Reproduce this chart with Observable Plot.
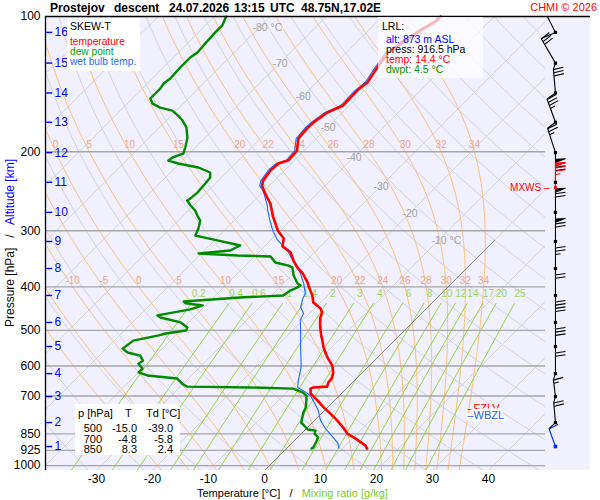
<!DOCTYPE html>
<html>
<head>
<meta charset="utf-8">
<script src="https://cdn.jsdelivr.net/npm/d3@7"></script>
<script src="https://cdn.jsdelivr.net/npm/@observablehq/plot@0.6"></script>
<style>
html,body{margin:0;padding:0;background:#fff;}
svg{display:block;}
</style>
</head>
<body>
<div id="chart"></div>
<script>
// ---------------- data ----------------
const pressureTicks = [100, 200, 300, 400, 500, 600, 700, 850, 925, 1000];
const tempTicks = [-30, -20, -10, 0, 10, 20, 30, 40];
const altKm = [1, 2, 3, 4, 5, 6, 7, 8, 9, 10, 11, 12, 13, 14, 15, 16];
const altP = [907, 802, 702, 624, 543, 480, 418, 364, 317, 273, 234, 201, 172, 148, 127, 108.5];
const windDir = [340, 355, 353, 0, 0, 0, 0, 0, 0, 0, 0, 342, 340, 355, 330, 333];
const windSpd = [10, 20, 15, 20, 30, 40, 20, 25, 70, 70, 80, 25, 35, 30, 30, 0];

const tempP = [100,102,107.4,113.1,120.9,129.9,140.3,146.2,157.8,163.6,172.1,176.6,187,199,209,212.5,220,232,238,247,261,279,300,312,325,335,349.5,362,373,391,403,418,433,447,456.5,468.5,483,500,513,525,546,575,599,621,637,653,667,670,674,691,716.5,742,766,794,823,850,871,902.5,916.5];
const tempT = [-49.6,-49.5,-50.7,-51.6,-52.5,-51.8,-50.9,-51.3,-51.1,-52.7,-53.4,-53.5,-53.2,-51.3,-51.1,-52.3,-52.5,-52.0,-51.3,-49.5,-46.6,-43.8,-40.4,-38.0,-36.8,-34.3,-32.3,-30.4,-28.4,-25.9,-24.5,-22.7,-21.3,-18.9,-17.9,-17.3,-16.3,-15.0,-14.0,-13.0,-11.4,-8.9,-6.6,-5.2,-4.5,-4.3,-3.8,-6.1,-6.4,-5.5,-3.0,-0.7,1.6,4.1,6.4,8.3,10.6,13.6,14.4];

const wbP = [100,102,107.4,113.1,120.9,129.9,140.3,146.2,157.8,163.6,172.1,176.6,187,199,209,212.5,220,232,238,247,263.6,270,285,300,313,332,352,373,393,414,424,444,458,475,508,546,602,647,670,681,698,716.5,754,794,827,836,866,891,914];
const wbT = [-50.0,-49.9,-51.1,-52.0,-52.9,-52.2,-51.3,-51.7,-51.5,-53.1,-53.8,-53.9,-53.6,-51.7,-51.5,-52.7,-52.9,-52.4,-51.7,-49.7,-46.8,-45.9,-43.6,-41.3,-39.1,-35.2,-32.0,-28.8,-26.4,-24.3,-23.9,-22.7,-21.1,-20.4,-18.0,-15.5,-12.0,-10.0,-8.9,-7.3,-5.2,-3.8,-1.1,1.1,3.4,4.1,6.4,8.2,9.3];

const dewP = [100,104.7,108.5,114.8,120.3,123.4,129.9,137.4,141,144.7,148.4,152.3,156.3,159.5,162,166.2,170.5,176.6,186,195.8,201.9,206,209.3,212.5,216.9,222.5,228.3,235.5,246.7,254.4,256.9,263.6,270.4,277.5,284.7,296.6,307.4,312,316,323.6,332,337,340.6,342.3,353,358.6,362,377.4,393,397,401,407.6,418,422,429,431,435,440,449,463,468,480,492.8,500.4,508,513,527,549,560,569,584,593,608,620,630,640,657,667,670,674,688,700,716.5,742,762,802,815,831,836,850,864,884,912,916.5];
const dewT = [-87.9,-87.0,-87.0,-86.8,-86.6,-87.0,-87.0,-86.8,-87.1,-86.8,-86.8,-86.8,-85.5,-83.4,-80.7,-78.8,-77.1,-75.2,-73.2,-71.8,-71.1,-72.3,-72.5,-70.2,-65.9,-62.9,-62.0,-61.8,-61.6,-61.8,-62.0,-60.5,-58.8,-57.5,-56.1,-55.0,-54.3,-51.5,-49.0,-44.5,-45.4,-50.5,-43.2,-37.1,-35.2,-32.3,-31.3,-29.6,-27.5,-26.6,-26.8,-27.5,-27.9,-34.6,-42.3,-44.6,-44.0,-40.5,-42.0,-46.8,-45.9,-41.4,-39.3,-39.0,-42.1,-43.0,-46.6,-47.1,-45.5,-42.7,-41.3,-41.6,-40.0,-40.0,-37.9,-32.0,-30.2,-28.8,-17.3,-9.5,-7.0,-5.8,-5.0,-3.9,-3.4,-2.0,-0.9,0.4,2.0,2.4,3.6,4.1,4.6,4.5];

const tableP = [500, 700, 850];
const tableT = ["-15.0", "-4.8", "8.3"];
const tableTd = ["-39.0", "-5.8", "2.4"];

const isoLabelT = [-80, -70, -60, -50, -40, -30, -20, -10];
const isoLabelP = [105.8, 127.2, 150.6, 176.6, 206, 239.1, 274.6, 315.4];
const moistThetaW = [-20, -15, -10, -5, 0, 5, 10, 15, 20, 22, 24, 26, 28, 30, 32, 34];
const moistLabels200 = [0, 5, 10, 15, 20, 22, 24, 26, 28, 30, 32, 34];
const moistLabels400 = [-10, -5, 0, 5, 10, 15, 20, 22, 24, 26, 28, 30, 32, 34];
const mixRatios = [0.2, 0.4, 0.6, 1, 1.4, 2, 3, 4, 6, 8, 10, 12, 14, 17, 20, 25];
const lrlLines = ["alt: 873 m ASL", "press: 916.5 hPa", "temp: 14.4 °C", "dwpt: 4.5 °C"];
const fzlvP = 748, wbzlP = 773, mxwsP = 240.4;

// ---------------- geometry ----------------
const FONT = "Liberation Sans, Arial, Helvetica, sans-serif";
const PBOT = 1025.5, SKEW = 34.82;
const XL = -39.107, XR = 50.179, XE = 58.214, XW = 51.96;
const sk = (p, t) => t + SKEW * Math.log(PBOT / p);

const C_GRID = "#d0d0d8", C_ORANGE = "#ffc27a", C_ORLAB = "#f6a585", C_MIX = "#92d42c", C_MIXLAB = "#9ed65e";

// isotherms
const isoRows = [];
for (let t = -160; t <= 50; t += 10) {
  isoRows.push({g: t, p: PBOT, x: sk(PBOT, t)}, {g: t, p: 100, x: sk(100, t)});
}
// dry adiabats
const dryRows = [];
for (let th = 230; th <= 520; th += 10) {
  for (let k = 0; k <= 40; k++) {
    const p = PBOT * Math.pow(100 / PBOT, k / 40);
    dryRows.push({g: th, p, x: sk(p, th * Math.pow(p / 1000, 0.2857) - 273.15)});
  }
}
// pseudo-adiabats
const Rd = 287.04, Cp = 1005.7, Lv = 2.501e6, EPS = 0.622;
const esat = tc => 6.112 * Math.exp(17.67 * tc / (tc + 243.5));
function dT(T, lnp) {
  const p = Math.exp(lnp), e = esat(T - 273.15), rs = EPS * e / Math.max(p - e, 1e-6);
  return (Rd * T + Lv * rs) / (Cp + Lv * Lv * rs * EPS / (Rd * T * T));
}
function rk(T, l, h) {
  const k1 = dT(T, l), k2 = dT(T + h * k1 / 2, l + h / 2), k3 = dT(T + h * k2 / 2, l + h / 2), k4 = dT(T + h * k3, l + h);
  return T + h * (k1 + 2 * k2 + 2 * k3 + k4) / 6;
}
function moistCurve(tw) {
  let T = tw + 273.15, l = Math.log(1000);
  const lb = Math.log(PBOT), h0 = (lb - l) / 4;
  for (let i = 0; i < 4; i++) { T = rk(T, l, h0); l += h0; }
  const out = [{p: PBOT, t: T - 273.15}];
  const n = 150, h = (Math.log(100) - lb) / n;
  for (let i = 0; i < n; i++) { T = rk(T, l, h); l += h; out.push({p: Math.exp(l), t: T - 273.15}); }
  return out;
}
function xAt(curve, p) {
  const lp = Math.log(p);
  for (let i = 0; i < curve.length - 1; i++) {
    const a = curve[i], b = curve[i + 1];
    if (p <= a.p && p >= b.p) {
      const f = (Math.log(a.p) - lp) / (Math.log(a.p) - Math.log(b.p));
      return sk(p, a.t + f * (b.t - a.t));
    }
  }
  return NaN;
}
const moistCurves = new Map(moistThetaW.map(tw => [tw, moistCurve(tw)]));
const moistRows = [];
for (const [tw, c] of moistCurves) for (const d of c) moistRows.push({g: tw, p: d.p, x: sk(d.p, d.t)});
const moistLab = [
  ...moistLabels200.map(tw => ({p: 200, x: xAt(moistCurves.get(tw), 200), s: String(tw)})),
  ...moistLabels400.map(tw => ({p: 400, x: xAt(moistCurves.get(tw), 400), s: String(tw)}))
].filter(d => d.x > XL + 0.5 && d.x < XR);
// mixing ratio lines
const tdFromW = (w, p) => { const e = w * p / (622 + w); const l = Math.log(e / 6.112); return 243.5 * l / (17.67 - l); };
const mixRows = [];
for (const w of mixRatios) for (let k = 0; k <= 12; k++) {
  const p = PBOT * Math.pow(435 / PBOT, k / 12);
  mixRows.push({g: w, p, x: sk(p, tdFromW(w, p))});
}
const mixLab = mixRatios.map(w => ({p: 414, x: sk(414, tdFromW(w, 414)), s: String(w)}));

// ---------------- wind barbs ----------------
const xS = Plot.scale({x: {domain: [XL, XR], range: [45, 545]}});
const yS = Plot.scale({y: {type: "log", domain: [PBOT, 100], range: [470, 16]}});
const toData = (px, py) => ({x: xS.invert(px), p: yS.invert(py)});
const segs = {black: [], blue: [], red: []}, polys = {black: [], blue: [], red: []};
function addBarb(p, dir, spd, L, col) {
  const x0 = xS.apply(XW), y0 = yS.apply(p);
  const a = dir * Math.PI / 180, ux = Math.sin(a), uy = -Math.cos(a), nx = Math.cos(a), ny = Math.sin(a);
  const P = (s, w = 0) => toData(x0 + s * ux + w * nx, y0 + s * uy + w * ny);
  const seg = (A, B) => segs[col].push({x1: A.x, p1: A.p, x2: B.x, p2: B.p});
  seg(P(0), P(L));
  let s = L - 0.5, v = Math.round(spd / 5) * 5; const W = 10;
  while (v >= 50) { const id = col + p + "_" + s; [P(s), P(s + 0.5, W), P(s - 3.5)].forEach(q => polys[col].push({...q, g: id})); s -= 5; v -= 50; }
  while (v >= 10) { seg(P(s), P(s + 1.5, W)); s -= 3.2; v -= 10; }
  if (v >= 5) seg(P(s), P(s + 0.75, W / 2));
  return P(L);
}
altP.forEach((p, i) => {
  const y0 = yS.apply(p);
  const yN = i < altP.length - 1 ? yS.apply(altP[i + 1]) + 6 : 16;
  const a = windDir[i] * Math.PI / 180;
  const L = (y0 - yN) / Math.cos(a);
  const tip = addBarb(p, windDir[i], windSpd[i], L, i === 0 ? "blue" : "black");
  if (i < altP.length - 1) segs.black.push({x1: tip.x, p1: tip.p, x2: XW, p2: altP[i + 1]});
});
addBarb(mxwsP, 0, 75, 25, "red");
const barbColors = {black: "#000000", blue: "#0022ff", red: "#ff0000"};
const barbMarks = [];
for (const c of ["black", "blue", "red"]) {
  barbMarks.push(Plot.link(segs[c], {x1: "x1", y1: "p1", x2: "x2", y2: "p2", stroke: barbColors[c], strokeWidth: 1.1}));
  barbMarks.push(Plot.line(polys[c], {x: "x", y: "p", z: "g", fill: barbColors[c], stroke: barbColors[c], strokeWidth: 0.8}));
}

// ---------------- plot ----------------
const chart = Plot.plot({
  width: 600, height: 500,
  marginLeft: 45, marginRight: 55, marginTop: 16, marginBottom: 30,
  x: {domain: [XL, XR]},
  y: {type: "log", domain: [PBOT, 100]},
  style: {fontFamily: FONT, fontSize: "12px", background: "white", overflow: "visible"},
  marks: [
    Plot.rect([0], {x1: () => XL, x2: () => XE, y1: () => 100, y2: () => PBOT, fill: "#f0f0fe"}),
    Plot.line(isoRows, {x: "x", y: "p", z: "g", stroke: C_GRID, strokeWidth: 0.9, clip: true}),
    Plot.line(dryRows, {x: "x", y: "p", z: "g", stroke: C_GRID, strokeWidth: 0.9, clip: true}),
    Plot.line(moistRows, {x: "x", y: "p", z: "g", stroke: C_ORANGE, strokeWidth: 1, clip: true}),
    Plot.line(mixRows, {x: "x", y: "p", z: "g", stroke: C_MIX, strokeWidth: 0.9, clip: true}),
    Plot.ruleY(pressureTicks.slice(1), {x1: () => XL, x2: () => XR, stroke: "#a6a6a6", strokeWidth: 1.4}),
    Plot.line([PBOT, 315], {x: p => sk(p, 0), y: p => p, stroke: "#6e6e6e", strokeWidth: 0.8, clip: true}),
    Plot.text(isoLabelT, {x: (t, i) => sk(isoLabelP[i], t), y: (t, i) => isoLabelP[i], text: t => (t === -80 || t === -10) ? `${t} °C` : `${t}`, textAnchor: "start", dx: -7, fill: "#a3a3a3", fontSize: 10.5}),
    Plot.text(moistLab, {x: "x", y: "p", text: "s", dy: -6.5, fill: C_ORLAB, fontSize: 10}),
    Plot.text(mixLab, {x: "x", y: "p", text: "s", fill: C_MIXLAB, fontSize: 10}),
    Plot.line(wbP, {x: (p, i) => sk(p, wbT[i]), y: p => p, stroke: "#1f6bff", strokeWidth: 1.1}),
    Plot.line(dewP, {x: (p, i) => sk(p, dewT[i]), y: p => p, stroke: "#008a00", strokeWidth: 2.4, strokeLinejoin: "round"}),
    Plot.line(tempP, {x: (p, i) => sk(p, tempT[i]), y: p => p, stroke: "#ff0000", strokeWidth: 2.6, strokeLinejoin: "round"}),
    Plot.ruleY([100], {x1: () => XL, x2: () => XE, stroke: "#000", strokeWidth: 1.3}),
    Plot.ruleX([XL], {y1: () => 100, y2: () => PBOT, stroke: "#000", strokeWidth: 1.3}),
    Plot.axisY({ticks: pressureTicks, tickSize: 0, tickPadding: 5, tickFormat: d => String(d), label: null, fontSize: 12}),
    Plot.axisX({ticks: tempTicks, tickSize: 0, tickPadding: 4, tickFormat: d => String(d), label: null, fontSize: 12}),
    Plot.ruleY(altP, {x1: () => XL + 0.2, x2: () => XL + 1.3, stroke: "#0000ff", strokeWidth: 1.4}),
    Plot.text(altKm, {x: () => XL + 1.6, y: (k, i) => altP[i], text: k => String(k), textAnchor: "start", fill: "#0000ff", fontSize: 12}),
    ...barbMarks,
    Plot.dot(altP.slice(1), {x: () => XW, y: p => p, symbol: "square", r: 1.8, fill: "#000"}),
    Plot.dot(altP.slice(0, 1), {x: () => XW, y: p => p, symbol: "square", r: 2, fill: "#0022ff"}),
    Plot.dot([mxwsP], {x: () => XW, y: p => p, symbol: "square", r: 1.6, fill: "#ff0000"}),
    Plot.text(["MXWS –"], {x: () => XR, y: () => mxwsP, dx: 4, textAnchor: "end", fill: "#ff0000", fontSize: 10}),
    Plot.text(["–FZLV"], {x: () => XR, y: () => fzlvP, dx: -78, textAnchor: "start", fill: "#ff0000", fontSize: 11}),
    Plot.text(["–WBZL"], {x: () => XR, y: () => wbzlP, dx: -78, textAnchor: "start", fill: "#2060ff", fontSize: 11, stroke: "white", strokeWidth: 5, paintOrder: "stroke"})
  ]
});
document.getElementById("chart").appendChild(chart);

// ---------------- titles, boxes ----------------
const svg = d3.select(chart);
function txt(g, x, y, s, o = {}) {
  return g.append("text").attr("x", x).attr("y", y).text(s)
    .attr("font-family", FONT).attr("font-size", o.size || 11).attr("fill", o.fill || "#000")
    .attr("text-anchor", o.anchor || "start").attr("font-weight", o.weight || "normal");
}
const g = svg.append("g").attr("text-anchor", "start");
[["Prostejov", 50], ["descent", 114], ["24.07.2026", 169], ["13:15", 234], ["UTC", 270], ["48.75N,17.02E", 301]]
  .forEach(([s, x]) => txt(g, x, 12, s, {size: 12, weight: "bold"}));
txt(g, 597, 11, "CHMI © 2026", {size: 11, fill: "#ff0000", anchor: "end"});

// legend
g.append("rect").attr("x", 67).attr("y", 18).attr("width", 73).attr("height", 53).attr("fill", "#fff");
txt(g, 70, 30, "SKEW-T", {size: 10.5});
txt(g, 70, 45, "temperature", {size: 10.2, fill: "#ff0000"});
txt(g, 70, 55, "dew point", {size: 10.2, fill: "#00a000"});
txt(g, 70, 65, "wet bulb temp.", {size: 10.2, fill: "#2070ff"});

// LRL box
g.append("rect").attr("x", 378).attr("y", 17).attr("width", 105).attr("height", 61).attr("fill", "#fff").attr("fill-opacity", 0.7);
txt(g, 382, 29.5, "LRL:", {size: 10.5});
const lrlColors = ["#0000ff", "#000000", "#ff0000", "#009000"];
lrlLines.forEach((s, i) => txt(g, 386, 43 + i * 10, s, {size: 10.5, fill: lrlColors[i]}));

// table
g.append("rect").attr("x", 75).attr("y", 404).attr("width", 105).attr("height", 51).attr("fill", "#fff");
txt(g, 78, 417, "p [hPa]", {size: 11});
txt(g, 125, 417, "T", {size: 11});
txt(g, 146, 417, "Td [°C]", {size: 11});
tableP.forEach((p, i) => {
  const y = 432 + i * 10.5;
  txt(g, 102, y, String(p), {size: 11, anchor: "end"});
  txt(g, 137, y, tableT[i], {size: 11, anchor: "end"});
  txt(g, 173, y, tableTd[i], {size: 11, anchor: "end"});
});

// axis titles
const yt = g.append("text").attr("transform", "translate(14,243) rotate(-90)").attr("text-anchor", "middle")
  .attr("font-family", FONT).attr("font-size", 12).style("white-space", "pre");
yt.append("tspan").attr("fill", "#000").text("Pressure [hPa]   /   ");
yt.append("tspan").attr("fill", "#0000ff").text("Altitude [km]");
const xt = g.append("text").attr("x", 197).attr("y", 497).attr("text-anchor", "start").attr("font-family", FONT).attr("font-size", 11).style("white-space", "pre");
xt.append("tspan").attr("fill", "#000").text("Temperature [°C]   /   ");
xt.append("tspan").attr("fill", "#7ccc22").text("Mixing ratio [g/kg]");
</script>
</body>
</html>
